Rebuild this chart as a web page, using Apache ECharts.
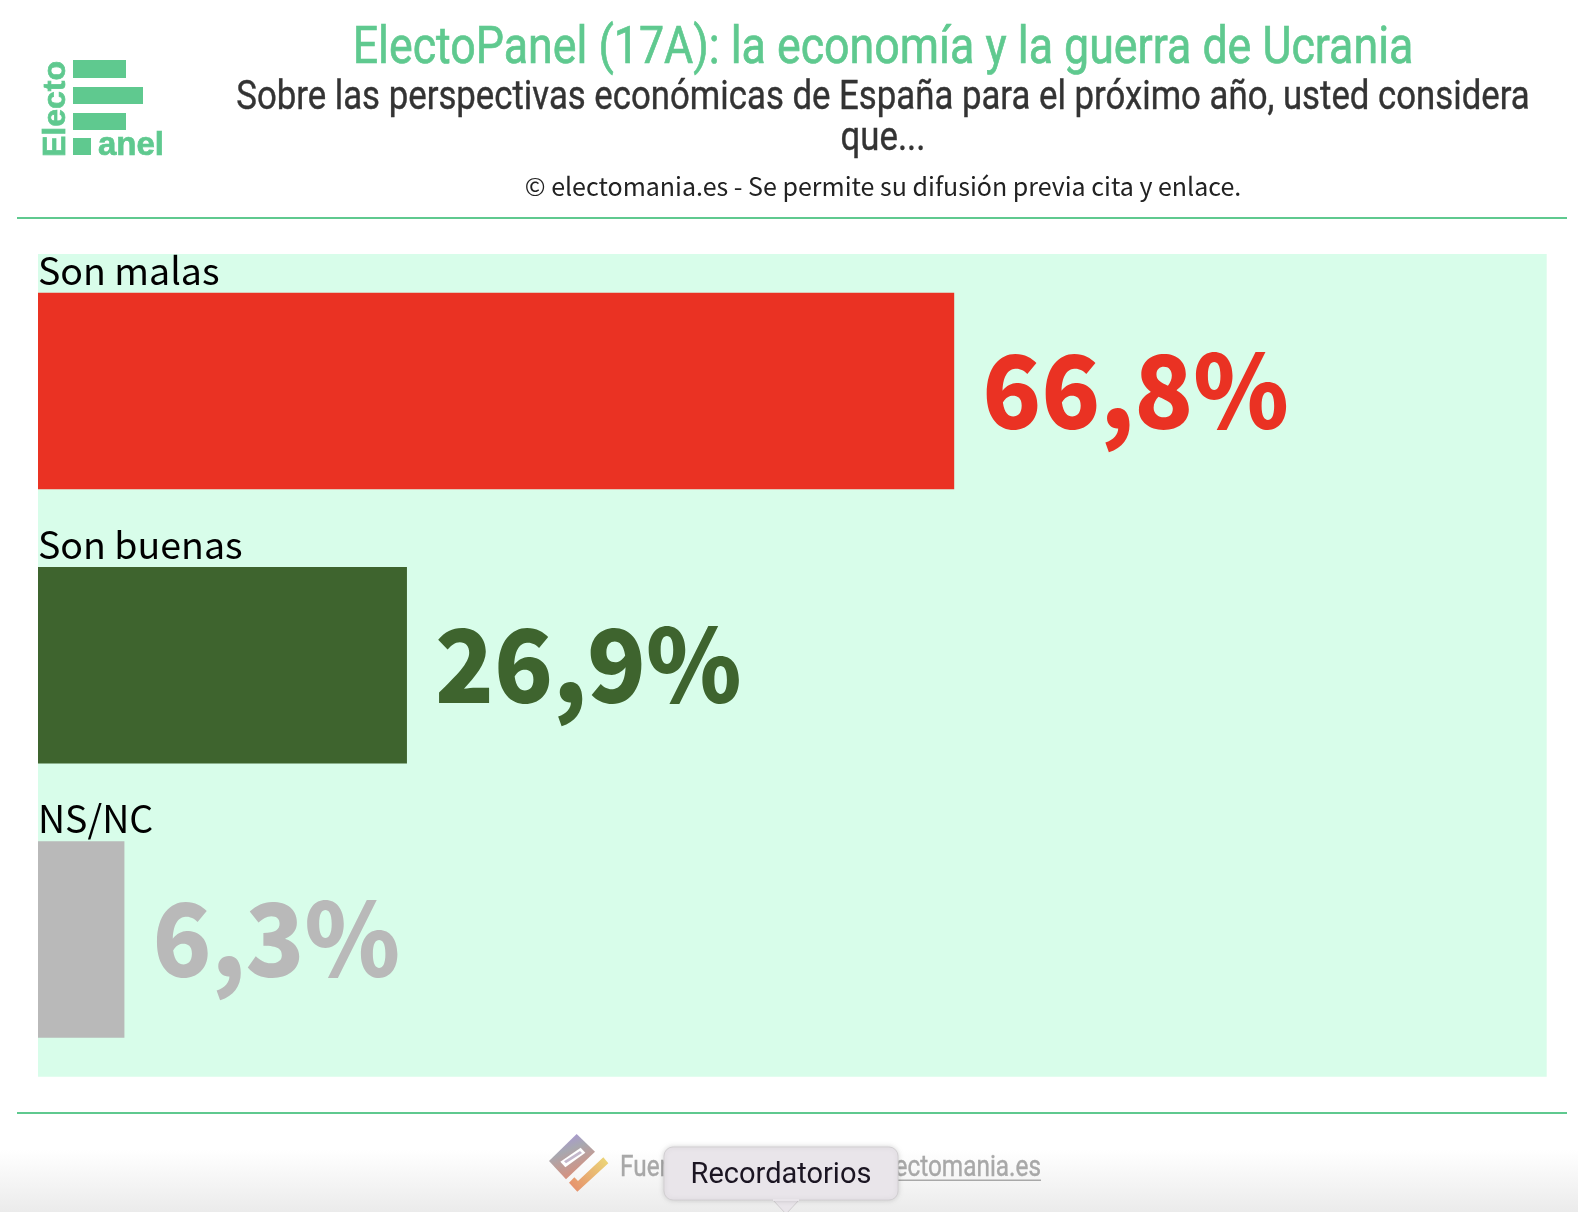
<!DOCTYPE html>
<html><head><meta charset="utf-8">
<style>html,body{margin:0;padding:0;background:#fff}#c{width:1578px;height:1212px}</style>
<script src="https://cdn.jsdelivr.net/npm/echarts@6/dist/echarts.min.js"></script>
</head><body><div id="c"></div>
<script>
const categories = ['Son malas', 'Son buenas', 'NS/NC'];
const values = [66.8, 26.9, 6.3];
const barColors = ['#ea3223', '#3e642e', '#b9b9b9'];
const titleText = 'ElectoPanel (17A): la economía y la guerra de Ucrania';
const subtitleText = 'Sobre las perspectivas económicas de España para el próximo año, usted considera\nque...';
const creditText = '© electomania.es - Se permite su difusión previa cita y enlace.';

const GREEN = '#5fc98f', SANS = '"Noto Sans CJK JP"';
const chart = echarts.init(document.getElementById('c'), null, {renderer:'canvas'});
const pts = a => a.map(p => [540 + p[0]/3, 1125 + p[1]/3]);
const grad = {type:'linear',x:0,y:0,x2:.4,y2:1,colorStops:[{offset:0,color:'#a88fe6'},{offset:.45,color:'#a8a8b0'},{offset:1,color:'#d8907c'}]};

chart.setOption({
  animation:false,
  backgroundColor:'#fff',
  grid:{left:38,top:254,width:1508.7,height:822.7,show:true,backgroundColor:'#d8fdea',borderWidth:0,containLabel:false},
  xAxis:{type:'value',min:0,max:110,show:false},
  yAxis:{type:'category',inverse:true,data:categories,show:false},
  series:[
    {type:'bar',barWidth:196.5,silent:true,
     data:values.map((v,i)=>({value:v,itemStyle:{color:barColors[i]}}))},
    {type:'bar',barWidth:196.5,barGap:'-100%',silent:true,
     data:values.map(v=>({value:v,itemStyle:{color:'transparent'}})),
     label:{show:true,position:[0,-41],color:'#000',fontFamily:SANS,fontSize:37.5,formatter:p=>p.name}},
    {type:'custom',silent:true,clip:false,z:5,data:values.map((v,i)=>[v,i]),
     encode:{x:0,y:1},
     renderItem:(params,api)=>{
       const p=api.coord([api.value(0),api.value(1)]);
       return {type:'text',x:p[0]+28,y:p[1]-1,scaleX:.95,
         style:{text:String(api.value(0)).replace('.',',')+'%',fill:barColors[api.value(1)],
           font:'900 102px '+SANS,textAlign:'left',textVerticalAlign:'middle'}};
     }}
  ],
  graphic:[
    {type:'rect',shape:{x:0,y:1150,width:1578,height:62},style:{fill:{type:'linear',x:0,y:0,x2:0,y2:1,colorStops:[{offset:0,color:'#ffffff'},{offset:1,color:'#ebebeb'}]}}},
    {type:'rect',shape:{x:17,y:217,width:1550,height:2},style:{fill:GREEN}},
    {type:'rect',shape:{x:17,y:1112,width:1550,height:2},style:{fill:GREEN}},
    // logo
    {type:'rect',shape:{x:73,y:60,width:53,height:18},style:{fill:GREEN}},
    {type:'rect',shape:{x:73,y:87,width:70,height:17},style:{fill:GREEN}},
    {type:'rect',shape:{x:73,y:113,width:53,height:17},style:{fill:GREEN}},
    {type:'rect',shape:{x:73,y:138,width:18,height:17},style:{fill:GREEN}},
    {type:'text',x:98,y:162,style:{text:'anel',fill:GREEN,stroke:GREEN,lineWidth:.7,font:'bold 33px "Liberation Sans"',textAlign:'left',textVerticalAlign:'bottom'}},
    {type:'text',x:72,y:157,rotation:Math.PI/2,style:{text:'Electo',fill:GREEN,stroke:GREEN,lineWidth:.7,font:'bold 32px "Liberation Sans"',textAlign:'left',textVerticalAlign:'bottom'}},
    // headings
    {type:'text',x:883,y:50,scaleX:.86,style:{text:titleText,fill:GREEN,stroke:GREEN,lineWidth:.7,font:'52px Roboto',textAlign:'center',textVerticalAlign:'middle'}},
    {type:'text',x:883,y:119,scaleX:.869,style:{text:subtitleText,fill:'#333',stroke:'#333',lineWidth:.4,font:'40px Roboto',lineHeight:41,textAlign:'center',textVerticalAlign:'middle'}},
    {type:'text',x:883,y:186,style:{text:creditText,fill:'#222',font:'25px '+SANS,textAlign:'center',textVerticalAlign:'middle'}},
    // footer
    {type:'polygon',shape:{points:pts([[110,27],[165,80],[78,163],[27,108]])},style:{fill:grad}},
    {type:'polygon',shape:{points:pts([[122,68],[136,83],[76,127],[61,110]])},style:{fill:'#fff'}},
    {type:'polygon',shape:{points:pts([[120,78],[126,84],[78,115],[72,109]])},style:{fill:'#c4b8cc'}},
    {type:'polygon',shape:{points:pts([[190,97],[205,115],[112,200],[87,173],[103,157],[114,168]])},style:{fill:{type:'linear',x:1,y:0,x2:0,y2:1,colorStops:[{offset:0,color:'#ecd978'},{offset:1,color:'#e58a6c'}]}}},
    {type:'text',x:620,y:1169,scaleX:.84,style:{text:'Fuente:',fill:'#a8a8a8',stroke:'#a8a8a8',lineWidth:.4,font:'29px Roboto',textAlign:'left',textVerticalAlign:'middle'}},
    {type:'text',x:1041,y:1169,scaleX:.84,style:{text:'electomania.es',fill:'#a8a8a8',stroke:'#a8a8a8',lineWidth:.4,font:'29px Roboto',textAlign:'right',textVerticalAlign:'middle'}},
    {type:'rect',shape:{x:860,y:1179.5,width:181,height:1.5},style:{fill:'#a8a8a8'}},
    // reminder bubble
    {type:'polygon',shape:{points:[[772,1199],[800,1199],[786,1214]]},style:{fill:'#e9e5ea',stroke:'#cfcccf'}},
    {type:'rect',shape:{x:664,y:1147,width:234,height:53,r:9},style:{fill:'#e9e5ea',stroke:'#d2cfd2',lineWidth:1,shadowBlur:5,shadowColor:'rgba(0,0,0,.15)'}},
    {type:'polygon',shape:{points:[[773,1199],[799,1199],[799,1201],[773,1201]]},style:{fill:'#e9e5ea'}},
    {type:'text',x:781,y:1176,style:{text:'Recordatorios',fill:'#1b1522',font:'29px Roboto',textAlign:'center',textVerticalAlign:'middle'}}
  ]
});
</script></body></html>
